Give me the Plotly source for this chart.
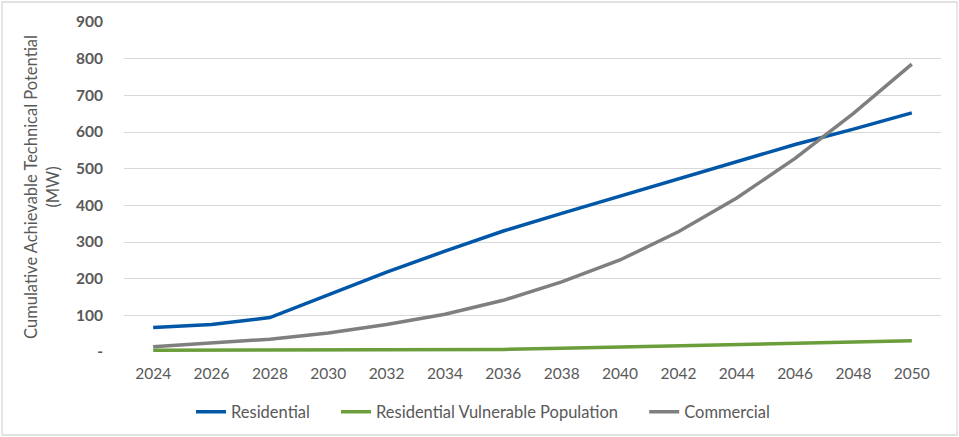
import plotly.graph_objects as go

years = ["2024", "2026", "2028", "2030", "2032", "2034", "2036", "2038", "2040",
         "2042", "2044", "2046", "2048", "2050"]
residential = [67, 75, 94, 155, 218, 275, 330, 378, 425, 473, 520, 566, 608, 652]
vulnerable = [5, 5, 5, 5, 5, 6, 7, 10, 13, 16, 20, 23, 27, 31]
commercial = [14, 24, 35, 52, 75, 103, 141, 191, 251, 328, 420, 528, 651, 785]

y_ticks = [0, 100, 200, 300, 400, 500, 600, 700, 800, 900]
y_ticktext = ["-", "100", "200", "300", "400", "500", "600", "700", "800", "900"]

FONT = "Lato, 'Open Sans', sans-serif"
TXT = "#595959"
PAD = "\u00a0" * 5

fig = go.Figure()
fig.add_trace(go.Scatter(x=years, y=residential, mode="lines", name="Residential" + PAD,
                         line=dict(color="#0057a8", width=3.5)))
fig.add_trace(go.Scatter(x=years, y=vulnerable, mode="lines",
                         name="Residential Vulnerable Population" + PAD,
                         line=dict(color="#6a9e3a", width=3.5)))
fig.add_trace(go.Scatter(x=years, y=commercial, mode="lines", name="Commercial",
                         line=dict(color="#7f7f7f", width=3.5)))

W, H = 959, 437
L, R, T, B = 124, 18, 22, 85
pw, ph = W - L - R, H - T - B

def px_x(p):
    return (p - L) / pw

def px_y(p):
    return (H - B - p) / ph

fig.update_layout(
    width=W, height=H,
    margin=dict(l=L, r=R, t=T, b=B, autoexpand=False),
    paper_bgcolor="white", plot_bgcolor="white",
    font=dict(family=FONT, color=TXT, size=15),
    showlegend=True,
    legend=dict(orientation="h", x=px_x(483), xanchor="center",
                y=px_y(412), yanchor="middle",
                font=dict(size=16.5, color=TXT), itemwidth=30,
                traceorder="normal"),
    xaxis=dict(type="category", range=[-0.5, len(years) - 0.5],
               showgrid=False, zeroline=False, showline=False,
               ticks="", tickfont=dict(size=15.5, color=TXT), fixedrange=True,
               ticklabelstandoff=10),
    yaxis=dict(range=[0, 900], tickvals=y_ticks, ticktext=y_ticktext,
               showgrid=True, gridcolor="#d9d9d9", gridwidth=1.3,
               zeroline=False, showline=False, ticks="",
               tickfont=dict(size=15.5, color=TXT, weight="bold"),
               ticklabelstandoff=20,
               title=dict(text="Cumulative Achievable Technical Potential<br>(MW)",
                          font=dict(size=16.5, color=TXT), standoff=12)),
    shapes=[dict(type="rect", xref="paper", yref="paper",
                 x0=px_x(2), x1=px_x(957), y0=px_y(435), y1=px_y(2),
                 line=dict(color="#d9d9d9", width=1.3), layer="below")],
)

fig.write_html("out.html", config={"displayModeBar": False},
               post_script="document.body.style.margin='0';document.body.style.padding='0';")
